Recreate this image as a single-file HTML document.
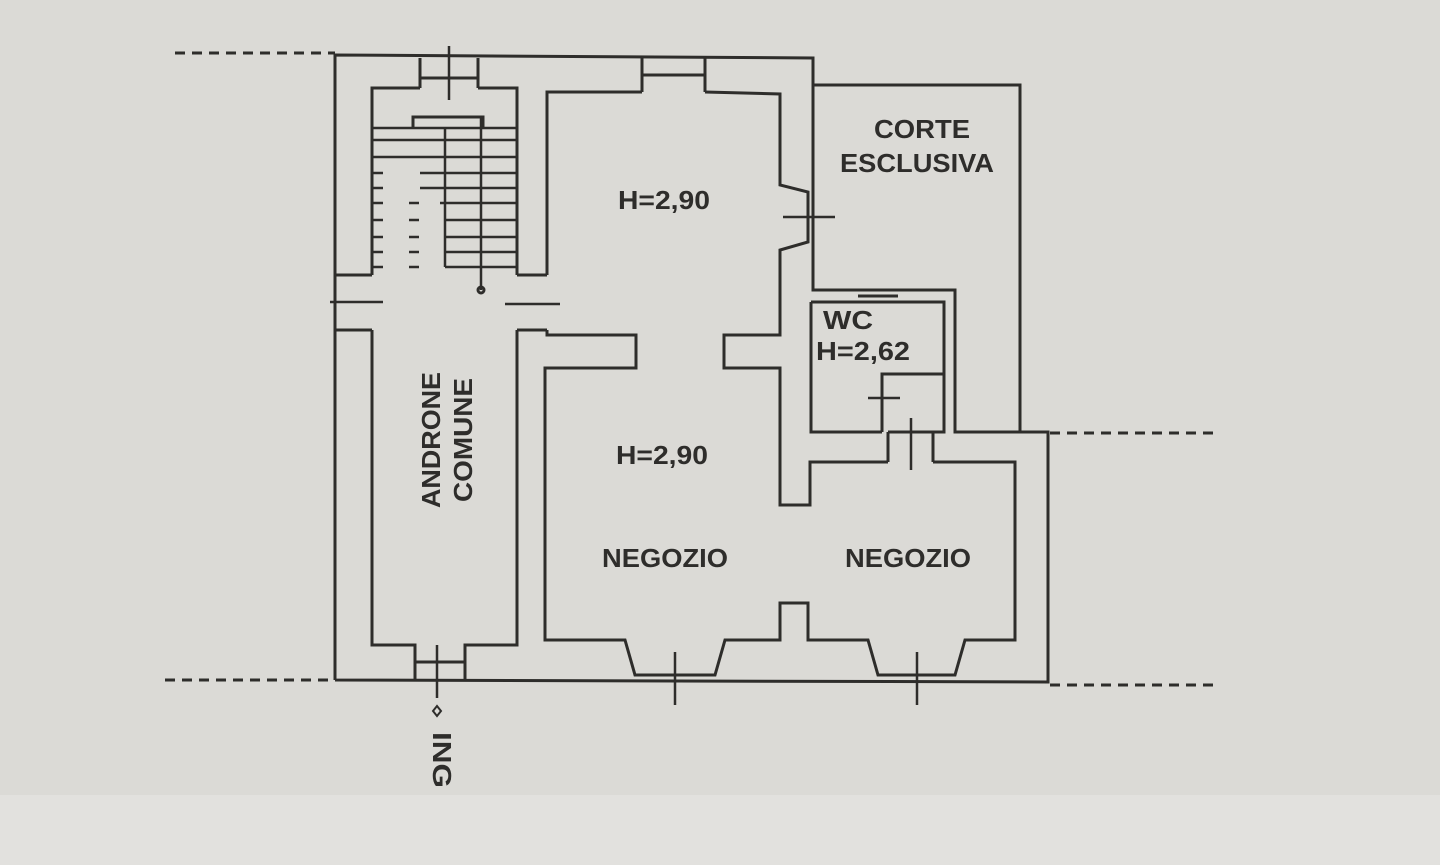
<!DOCTYPE html>
<html><head><meta charset="utf-8"><style>
html,body{margin:0;padding:0;width:1440px;height:865px;overflow:hidden;background:#dbdad6}
</style></head><body>
<svg width="1440" height="865" viewBox="0 0 1440 865" xmlns="http://www.w3.org/2000/svg">
<rect width="1440" height="865" fill="#dbdad6"/>
<rect x="0" y="795" width="1440" height="70" fill="#e2e1de"/>
<g stroke="#2e2d2b" stroke-width="3" fill="none" stroke-linejoin="miter">
<line x1="175" y1="53" x2="335" y2="53" stroke-dasharray="10,7"/>
<line x1="165" y1="680" x2="335" y2="680" stroke-dasharray="10,7"/>
<line x1="1050" y1="685" x2="1215" y2="685" stroke-dasharray="10,7"/>
<line x1="1050" y1="433" x2="1215" y2="433" stroke-dasharray="10,7"/>
<path d="M335,680 L335,55 L813,58 L813,290 L955,290 L955,432 L1048,432 L1048,682 L335,680"/>
<path d="M813,85 L1020,85 L1020,432"/>
<path d="M420,88 L372,88 L372,275 M372,330 L372,645 L415,645 L415,680 M465,680 L465,645 L517,645 L517,330 M517,275 L517,88 L478,88"/>
<path d="M335,275 L372,275 M335,330 L372,330 M517,275 L547,275 M517,330 L547,330"/>
<path d="M420,58 L420,88 M478,58 L478,88 M420,78 L478,78 M415,662 L465,662"/>
<path d="M547,275 L547,92 L642,92 M705,92 L780,94 L780,185 L808,192 L808,242 L780,250 L780,335 L724,335 L724,368 L780,368 L780,505 L810,505 L810,462 L888,462 M933,462 L1015,462 L1015,640 L965,640 L955,675 L878,675 L868,640 L808,640 L808,603 L780,603 L780,640 L725,640 L715,675 L635,675 L625,640 L545,640 L545,368 L636,368 L636,335 L547,335 L547,330"/>
<path d="M642,58 L642,92 M705,58 L705,92 M642,75 L705,75"/>
<path d="M811,302 L944,302 L944,432 L888,432 M811,302 L811,432 L882,432"/>
<path d="M882,432 L882,374 L944,374 M888,432 L888,462 M933,432 L933,462"/>
<line x1="858" y1="296" x2="898" y2="296"/>
<path d="M413,128 L413,117 L483,117 L483,128"/>
<g stroke-width="2.5">
<line x1="373" y1="128" x2="517" y2="128"/><line x1="373" y1="140" x2="517" y2="140"/>
<line x1="373" y1="157" x2="517" y2="157"/><line x1="420" y1="173" x2="517" y2="173"/>
<line x1="420" y1="188" x2="517" y2="188"/><line x1="440" y1="203" x2="517" y2="203"/>
<line x1="445" y1="220" x2="517" y2="220"/><line x1="445" y1="237" x2="517" y2="237"/>
<line x1="445" y1="252" x2="517" y2="252"/><line x1="445" y1="267" x2="517" y2="267"/>
<path d="M445,128 L445,267"/>
<line x1="481" y1="117" x2="481" y2="290"/>
</g>
<g stroke-width="2.5">
<line x1="373" y1="173" x2="383" y2="173"/><line x1="373" y1="188" x2="383" y2="188"/>
<line x1="373" y1="203" x2="383" y2="203"/><line x1="373" y1="220" x2="383" y2="220"/>
<line x1="373" y1="237" x2="383" y2="237"/><line x1="373" y1="252" x2="383" y2="252"/>
<line x1="373" y1="267" x2="383" y2="267"/>
<line x1="409" y1="203" x2="419" y2="203"/><line x1="409" y1="220" x2="419" y2="220"/>
<line x1="409" y1="237" x2="419" y2="237"/><line x1="409" y1="252" x2="419" y2="252"/>
<line x1="409" y1="267" x2="419" y2="267"/>
</g>
<circle cx="481" cy="290" r="3"/>
<g stroke-width="2.5">
<line x1="449" y1="46" x2="449" y2="100"/>
<line x1="330" y1="302" x2="383" y2="302"/>
<line x1="505" y1="304" x2="560" y2="304"/>
<line x1="783" y1="217" x2="835" y2="217"/>
<line x1="868" y1="398" x2="900" y2="398"/>
<line x1="911" y1="418" x2="911" y2="470"/>
<line x1="437" y1="645" x2="437" y2="698"/>
<line x1="675" y1="652" x2="675" y2="705"/>
<line x1="917" y1="652" x2="917" y2="705"/>
</g>
</g>
<path d="M437,706 L441,711 L437,716 L433,711 Z" fill="none" stroke="#2e2d2b" stroke-width="2"/>
<g font-family="Liberation Sans, sans-serif" font-weight="bold" fill="#2e2d2b" font-size="26">
<text x="922" y="138" text-anchor="middle" textLength="96" lengthAdjust="spacingAndGlyphs">CORTE</text>
<text x="917" y="172" text-anchor="middle" textLength="154" lengthAdjust="spacingAndGlyphs">ESCLUSIVA</text>
<text x="664" y="209" text-anchor="middle" textLength="92" lengthAdjust="spacingAndGlyphs">H=2,90</text>
<text x="662" y="464" text-anchor="middle" textLength="92" lengthAdjust="spacingAndGlyphs">H=2,90</text>
<text x="665" y="567" text-anchor="middle" textLength="126" lengthAdjust="spacingAndGlyphs">NEGOZIO</text>
<text x="908" y="567" text-anchor="middle" textLength="126" lengthAdjust="spacingAndGlyphs">NEGOZIO</text>
<text x="823" y="329" textLength="50" lengthAdjust="spacingAndGlyphs">WC</text>
<text x="816" y="360" textLength="94" lengthAdjust="spacingAndGlyphs">H=2,62</text>
<text transform="translate(440,440) rotate(-90)" text-anchor="middle" textLength="136" lengthAdjust="spacingAndGlyphs">ANDRONE</text>
<text transform="translate(472,440) rotate(-90)" text-anchor="middle" textLength="124" lengthAdjust="spacingAndGlyphs">COMUNE</text>
<text transform="translate(433,760) rotate(90)" text-anchor="middle" textLength="56" lengthAdjust="spacingAndGlyphs">ING</text>
</g>
</svg>
</body></html>
